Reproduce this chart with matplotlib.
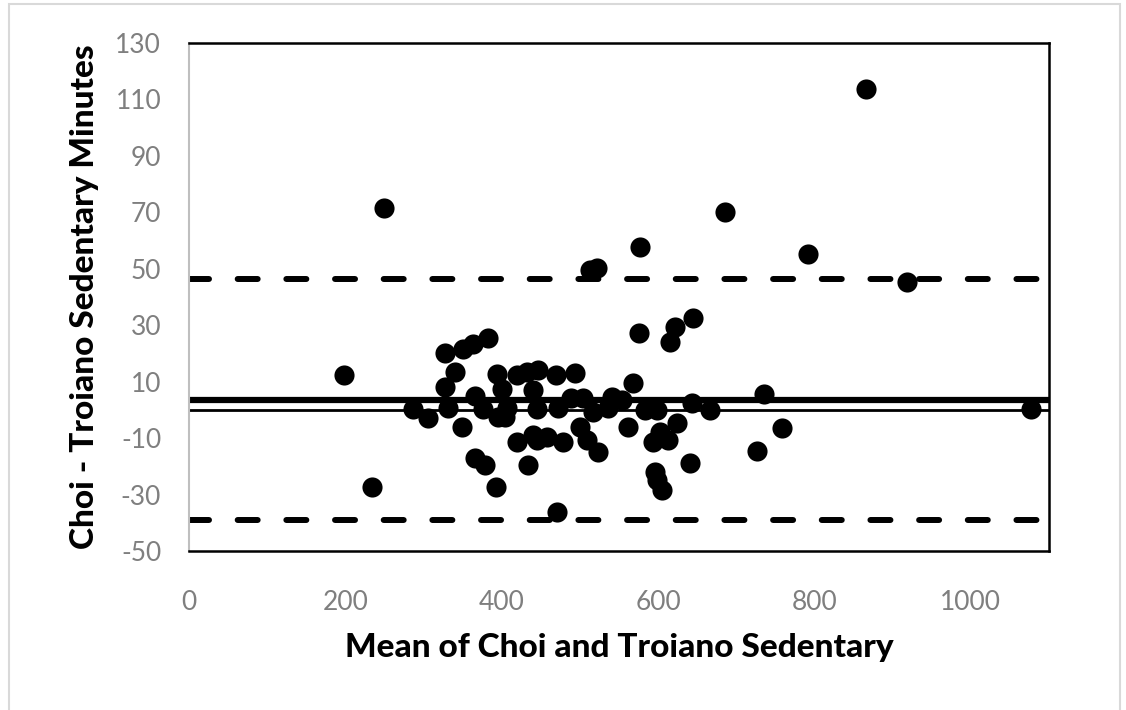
import numpy as np
import matplotlib.pyplot as plt
from matplotlib.patches import Rectangle

# Bland-Altman: Choi vs Troiano sedentary minutes
mean_vals = [198, 234, 250, 287, 306, 328, 328, 331, 340, 349, 351, 363, 366, 366,
             376, 379, 383, 393, 394, 395, 400, 404, 407, 420, 420, 432, 434, 440,
             440, 445, 447, 445, 458, 470, 472, 471, 479, 488, 494, 500, 504, 509,
             513, 517, 522, 523, 536, 541, 554, 562, 568, 575, 577, 583, 594, 596,
             599, 599, 603, 605, 613, 615, 622, 624, 641, 644, 645, 667, 685, 727,
             736, 759, 792, 866, 919, 1077]
diff_vals = [12.4, -27.3, 71.5, 0.3, -2.7, 20.1, 8.1, 0.5, 13.6, -6.1, 21.6, 23.3, 4.8, -17.1,
             0.2, -19.7, 25.5, -27.3, 12.8, -2.5, 7.5, -2.5, 0.7, 12.4, -11.5, 13.4, -19.5, 7.0,
             -8.9, 0.3, 14.1, -10.5, -9.6, 12.4, 0.5, -36.2, -11.4, 4.2, 13.1, -6.1, 4.2, -10.7,
             49.6, -0.8, 50.3, -15.0, 0.7, 4.6, 3.5, -6.1, 9.5, 27.2, 57.7, 0.0, -11.4, -22.0,
             0.0, -24.9, -7.8, -28.4, -10.7, 24.0, 29.4, -4.7, -18.8, 2.4, 32.6, 0.0, 70.1, -14.6,
             5.6, -6.4, 55.2, 113.7, 45.3, 0.3]

bias = 3.5
upper_loa = 46.4
lower_loa = -39.0
zero_line = 0.0

xticks = [0, 200, 400, 600, 800, 1000]
yticks = list(range(-50, 131, 20))

plt.rcParams['axes.unicode_minus'] = False

fig = plt.figure(figsize=(11.26, 7.10), dpi=100)
fig.patches.append(Rectangle((9/1126, -0.01), (1120-9)/1126, 1.01 - 4/710,
                             transform=fig.transFigure, fill=False,
                             edgecolor='#d9d9d9', linewidth=1.5))
ax = fig.add_axes([189/1126, 1-551/710, 860/1126, 508/710])

ax.scatter(mean_vals, diff_vals, s=210, color='black', zorder=3, linewidths=0)
ax.axhline(bias, color='black', linewidth=4.5, zorder=2)
ax.axhline(zero_line, color='black', linewidth=2, zorder=2)
for v in (upper_loa, lower_loa):
    ax.axhline(v, color='black', linewidth=4.3, linestyle=(0, (3.35, 4.8)),
               dash_capstyle='round', zorder=2)

ax.set_xlim(0, 1100)
ax.set_ylim(-50, 130)
ax.set_xticks(xticks)
ax.set_yticks(yticks)
ax.tick_params(length=0, labelsize=19, labelcolor='#7f7f7f', pad=20)
ax.tick_params(axis='x', pad=28)
for lab in ax.get_xticklabels() + ax.get_yticklabels():
    lab.set_family('Lato')

ax.spines['left'].set_color('#bfbfbf')
ax.spines['left'].set_linewidth(1.5)
for s in ('top', 'right', 'bottom'):
    ax.spines[s].set_color('black')
    ax.spines[s].set_linewidth(1.8)

ax.set_xlabel('Mean of Choi and Troiano Sedentary', fontsize=24, fontweight='black',
              family='Lato', labelpad=13)
ax.set_ylabel('Choi - Troiano Sedentary Minutes', fontsize=24, fontweight='black',
              family='Lato', labelpad=12)

fig.savefig('out.png', dpi=100)
